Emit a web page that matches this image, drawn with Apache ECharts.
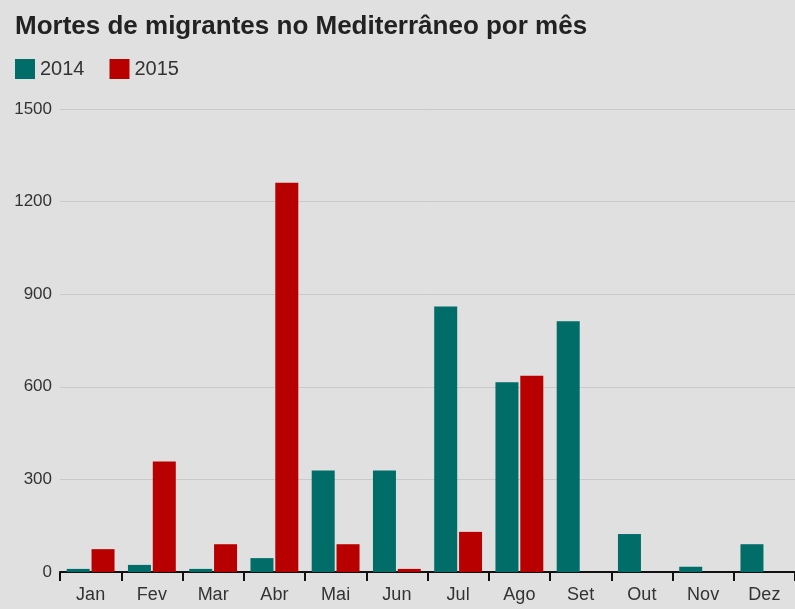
<!DOCTYPE html>
<html>
<head>
<meta charset="utf-8">
<script src="https://cdn.jsdelivr.net/npm/echarts@6/dist/echarts.min.js"></script>
<style>
  html, body { margin: 0; padding: 0; background: #e0e0e0; }
  #chart { width: 795px; height: 609px; }
</style>
</head>
<body>
<div id="chart"></div>
<script>
(function() {
  var months = ['Jan', 'Fev', 'Mar', 'Abr', 'Mai', 'Jun', 'Jul', 'Ago', 'Set', 'Out', 'Nov', 'Dez'];
  var deaths2014 = [10, 23, 10, 45, 329, 329, 860, 615, 812, 123, 17, 90];
  var deaths2015 = [74, 358, 90, 1261, 90, 10, 130, 636, 0, 0, 0, 0];
  var yTicks = [0, 300, 600, 900, 1200, 1500];

  var teal = '#006d68';
  var red = '#b80000';
  var ink = '#333333';

  var chart = echarts.init(document.getElementById('chart'), null, { renderer: 'canvas' });
  chart.setOption({
    animation: false,
    backgroundColor: '#e0e0e0',
    textStyle: { fontFamily: 'Liberation Sans' },
    title: {
      text: 'Mortes de migrantes no Mediterrâneo por mês',
      left: 10,
      top: 9,
      textStyle: { fontSize: 26, fontWeight: 'bold', color: '#222222', fontFamily: 'Liberation Sans' }
    },
    legend: {
      left: 10,
      top: 54,
      icon: 'rect',
      itemWidth: 20,
      itemHeight: 20,
      itemGap: 25,
      itemStyle: { borderWidth: 0 },
      textStyle: { fontSize: 20, color: ink },
      data: ['2014', '2015']
    },
    grid: { left: 60, right: 0, top: 109, bottom: 37, containLabel: false },
    xAxis: {
      type: 'category',
      data: months,
      axisLine: { lineStyle: { color: '#111111', width: 2 } },
      axisTick: { show: true, length: 9, lineStyle: { color: '#111111', width: 2 } },
      axisLabel: { fontSize: 18, color: ink, margin: 14 }
    },
    yAxis: {
      type: 'value',
      min: yTicks[0],
      max: yTicks[yTicks.length - 1],
      interval: 300,
      axisLine: { show: false },
      axisTick: { show: false },
      axisLabel: { fontSize: 17, color: ink, margin: 8, formatter: function(v) { return String(v); } },
      splitLine: { lineStyle: { color: '#c9c9c9', width: 1 } }
    },
    series: [
      {
        name: '2014',
        type: 'bar',
        data: deaths2014,
        barWidth: 23,
        barGap: '8%',
        itemStyle: { color: teal }
      },
      {
        name: '2015',
        type: 'bar',
        data: deaths2015,
        barWidth: 23,
        itemStyle: { color: red }
      }
    ]
  });
  window.addEventListener('resize', function() { chart.resize(); });
})();
</script>
</body>
</html>
